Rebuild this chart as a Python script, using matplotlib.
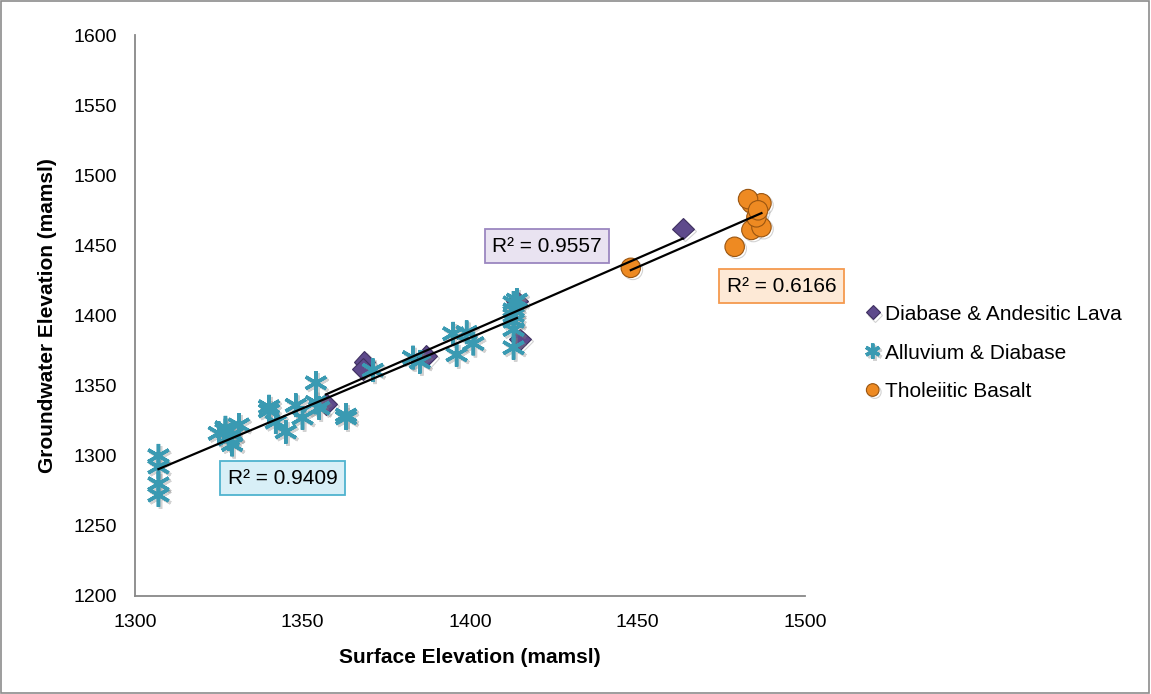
import matplotlib.pyplot as plt
import numpy as np
from matplotlib.patches import Rectangle
import matplotlib.patheffects as pe

plt.rcParams['font.family'] = ['Liberation Sans', 'DejaVu Sans']

# Diabase & Andesitic Lava
dia_x = [1357, 1368.5, 1368, 1387, 1414, 1415, 1463.5]
dia_y = [1337, 1367, 1362, 1371, 1410, 1383, 1462]

# Alluvium & Diabase
all_x = [1307, 1307, 1307, 1307,
         1325, 1327, 1328, 1329, 1331, 1327, 1329,
         1340, 1340, 1342, 1345, 1348, 1350, 1354, 1354, 1355, 1363, 1363,
         1371, 1383, 1385, 1395, 1399, 1396, 1401,
         1413, 1413, 1413, 1413, 1413, 1413, 1414]
all_y = [1300, 1292, 1280, 1272,
         1316, 1320, 1312, 1308, 1322, 1318, 1315,
         1335, 1332, 1324, 1317, 1336, 1327, 1352, 1338, 1334, 1329, 1327,
         1361, 1370, 1367, 1387, 1388, 1372, 1380,
         1409, 1404, 1400, 1396, 1390, 1377, 1411]

# Tholeiitic Basalt
bas_x = [1448, 1479, 1484, 1487, 1484, 1487, 1485.5, 1483, 1486]
bas_y = [1434, 1449, 1480, 1480, 1461, 1463, 1470, 1483, 1475]

r2_labels = ['R² = 0.9557', 'R² = 0.9409', 'R² = 0.6166']

fig = plt.figure(figsize=(11.51, 6.94), dpi=100)
ax = fig.add_axes([135 / 1151, 1 - 596 / 694, 670 / 1151, 561 / 694])

c_dia = '#5E4A8C'
c_all = '#3A9AB2'
c_bas = '#EE8A22'
shadow = [pe.SimpleLineShadow(offset=(1.5, -1.5), shadow_color='gray', alpha=0.35), pe.Normal()]

ax.plot(dia_x, dia_y, linestyle='none', marker='D', markersize=11,
        color=c_dia, markeredgecolor='#3f3060', markeredgewidth=0.8,
        label='Diabase & Andesitic Lava', zorder=3, path_effects=shadow)
ax.plot(all_x, all_y, linestyle='none', marker=(6, 2, 0), markersize=17,
        color=c_all, markeredgewidth=2.5, label='Alluvium & Diabase', zorder=3,
        path_effects=shadow)
ax.plot(bas_x, bas_y, linestyle='none', marker='o', markersize=14,
        color=c_bas, markeredgecolor='#9a5510', markeredgewidth=0.8,
        label='Tholeiitic Basalt', zorder=3, path_effects=shadow)

# linear trendlines
for xs, ys in [(dia_x, dia_y), (all_x, all_y), (bas_x, bas_y)]:
    xs = np.array(xs, dtype=float)
    ys = np.array(ys, dtype=float)
    k, b = np.polyfit(xs, ys, 1)
    xl = np.array([xs.min(), xs.max()])
    ax.plot(xl, k * xl + b, color='black', lw=1.6, zorder=4)

ax.text(1423, 1449.5, r2_labels[0], fontsize=15, ha='center', va='center', zorder=5,
        bbox=dict(boxstyle='square,pad=0.35', fc='#E9E3F1', ec='#9B87C0', lw=1.3))
ax.text(1344, 1284, r2_labels[1], fontsize=15, ha='center', va='center', zorder=5,
        bbox=dict(boxstyle='square,pad=0.35', fc='#D8EFF7', ec='#4FB3CF', lw=1.3))
ax.text(1493, 1421, r2_labels[2], fontsize=15, ha='center', va='center', zorder=5,
        bbox=dict(boxstyle='square,pad=0.35', fc='#FDE9D6', ec='#F59A4E', lw=1.3),
        clip_on=False)

ax.set_xlim(1300, 1500)
ax.set_ylim(1200, 1600)
ax.set_xticks(np.arange(1300, 1501, 50))
ax.set_yticks(np.arange(1200, 1601, 50))
ax.tick_params(length=0, labelsize=14, colors='black')
ax.tick_params(axis='y', pad=13)
ax.tick_params(axis='x', pad=13)
for s in ['top', 'right']:
    ax.spines[s].set_visible(False)
for s in ['left', 'bottom']:
    ax.spines[s].set_color('#888888')
    ax.spines[s].set_linewidth(1.3)

ax.set_xlabel('Surface Elevation (mamsl)', fontsize=15, fontweight='bold')
ax.set_ylabel('Groundwater Elevation (mamsl)', fontsize=15, fontweight='bold')
ax.xaxis.set_label_coords(0.5, -0.092)
ax.yaxis.set_label_coords(-0.116, 0.5)

leg = ax.legend(loc='center left', bbox_to_anchor=(855 / 1151, 1 - 353 / 694),
                bbox_transform=fig.transFigure, frameon=False, fontsize=15,
                markerscale=0.65, handlelength=0.7, handletextpad=0.25,
                labelspacing=0.95, borderpad=0)

fig.patches.append(Rectangle((0.001, 0.002), 0.997, 0.996, transform=fig.transFigure,
                             fill=False, ec='#8c8c8c', lw=1.2))

fig.savefig('out.png', dpi=100)
